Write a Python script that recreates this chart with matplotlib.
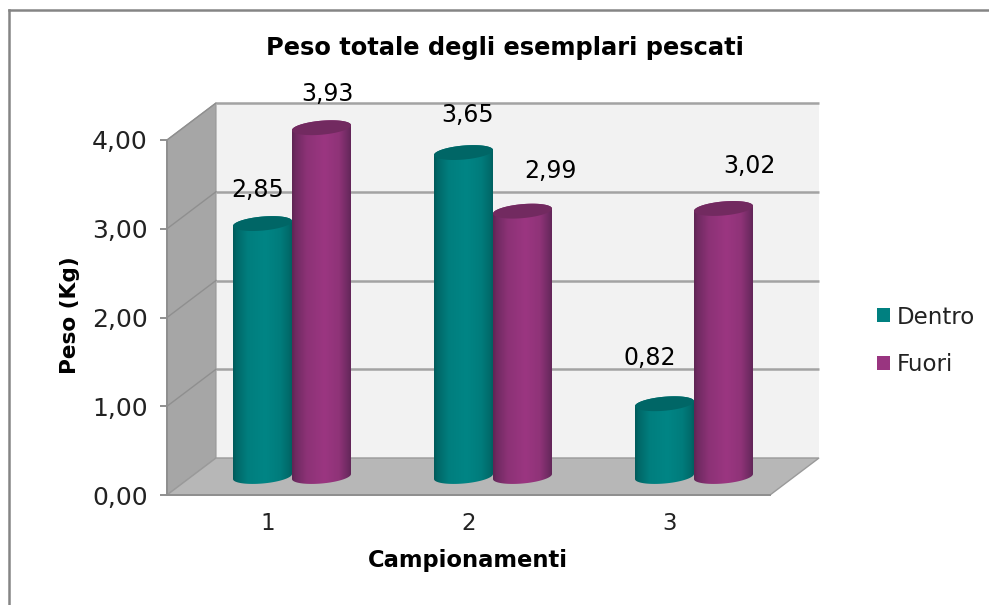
import numpy as np
import matplotlib
matplotlib.use("Agg")
import matplotlib.pyplot as plt
from matplotlib.colors import LinearSegmentedColormap
from matplotlib.patches import Patch, Polygon
from matplotlib.lines import Line2D

categories = ["1", "2", "3"]
dentro = [2.85, 3.65, 0.82]
fuori = [3.93, 2.99, 3.02]
yticks = [0, 1, 2, 3, 4]
title = "Peso totale degli esemplari pescati"
xlabel = "Campionamenti"
ylabel = "Peso (Kg)"

W, H = 989, 605
fig = plt.figure(figsize=(W / 100, H / 100), dpi=100, facecolor="white")
plt.rcParams["font.family"] = ["DejaVu Sans"]

# Front plane of the fake-3D box, in pixels
L, R, T, B = 167, 770, 140, 495
ax = fig.add_axes([L / W, 1 - B / H, (R - L) / W, (B - T) / H])
ax.set_xlim(0.5, 3.5)
ax.set_ylim(0, 4)
ax.patch.set_alpha(0)
px = (R - L) / 3.0   # px per category
py = (B - T) / 4.0   # px per unit
dx = 49 / px
dy = 37 / py
x0, x1 = 0.5, 3.5
ymax = 4

# Figure frame (open on the right and at the bottom)
for xs, ys in [((8.5, 8.5), (H, 10)), ((8.5, W), (10, 10))]:
    fig.add_artist(Line2D([x / W for x in xs], [1 - y / H for y in ys],
                          color="#858585", lw=1.8))

# Walls
ax.add_patch(Polygon([(x0 + dx, dy), (x1 + dx, dy), (x1 + dx, ymax + dy), (x0 + dx, ymax + dy)],
                     fc="#f2f2f2", ec="none", clip_on=False, zorder=1))
ax.add_patch(Polygon([(x0, 0), (x0 + dx, dy), (x0 + dx, ymax + dy), (x0, ymax)],
                     fc="#a6a6a6", ec="#989898", lw=0.8, clip_on=False, zorder=1.2))
ax.add_patch(Polygon([(x0, 0), (x1, 0), (x1 + dx, dy), (x0 + dx, dy)],
                     fc="#b7b7b7", ec="#9a9a9a", lw=1.0, clip_on=False, zorder=1.2))
for v in yticks[1:]:
    ax.plot([x0 + dx, x1 + dx], [v + dy, v + dy], color="#a3a3a3", lw=1.8,
            clip_on=False, zorder=1.5, solid_capstyle="butt")
    ax.plot([x0, x0 + dx], [v, v + dy], color="#8f8f8f", lw=1.0,
            clip_on=False, zorder=1.5)

# Cylinders
w = 59 / px
a, b, k = 29.5 / px, 7 / py, 2.5 / py
t = np.linspace(0, 2 * np.pi, 120)
cm_teal = LinearSegmentedColormap.from_list(
    "t", [(0, "#005a5a"), (0.06, "#006868"), (0.25, "#007e7e"), (0.55, "#008585"),
          (0.8, "#007c7c"), (0.94, "#006c6c"), (1, "#006060")])
cm_purp = LinearSegmentedColormap.from_list(
    "p", [(0, "#5e2553"), (0.06, "#6f2a61"), (0.25, "#8c3276"), (0.55, "#9b3681"),
          (0.8, "#8f3378"), (0.94, "#702b63"), (1, "#622658")])
grad = np.linspace(0, 1, 256)[None, :]


def cylinder(xc, top, cmap, topc, z):
    base = dy / 2
    ex = xc + a * np.cos(t)
    tu = np.linspace(0, np.pi, 60)
    tl = np.linspace(np.pi, 2 * np.pi, 60)
    xs = np.r_[xc + a * np.cos(tl), xc + a * np.cos(tu)]
    ys = np.r_[base + b * np.sin(tl) + k * np.cos(tl),
               base + top + b * np.sin(tu) + k * np.cos(tu)]
    body = Polygon(np.c_[xs, ys], fc="none", ec="none", transform=ax.transData, clip_on=False)
    ax.add_patch(body)
    im = ax.imshow(grad, cmap=cmap, extent=(xc - a, xc + a, 0, top + dy), aspect="auto",
                   zorder=z, interpolation="bilinear")
    im.set_clip_box(fig.bbox)
    im.set_clip_path(body)
    ax.add_patch(Polygon(np.c_[ex, base + top + b * np.sin(t) + k * np.cos(t)],
                         fc=topc, ec="none", zorder=z + 0.1, clip_on=False))


label_off = {0: [(-5, 34), (4, 38), (-15, 46)], 1: [(6, 34), (28, 40), (26, 42)]}
for i, c in enumerate([1, 2, 3]):
    xl = c + dx / 2 - w / 2
    xr = c + dx / 2 + w / 2
    cylinder(xl, dentro[i], cm_teal, "#006666", 3 + i * 0.5)
    cylinder(xr, fuori[i], cm_purp, "#722a60", 3.2 + i * 0.5)
    for s, xc, val in ((0, xl, dentro[i]), (1, xr, fuori[i])):
        ox, oy = label_off[s][i]
        ax.annotate(f"{val:.2f}".replace(".", ","), (xc, val + dy / 2), xytext=(ox * 0.72, oy * 0.72),
                    textcoords="offset points", ha="center", va="center", fontsize=17,
                    color="black", annotation_clip=False, zorder=10)
ax.set_xlim(0.5, 3.5)
ax.set_ylim(0, 4)

# Axes
for s in ("top", "right"):
    ax.spines[s].set_visible(False)
for s in ("left", "bottom"):
    ax.spines[s].set_color("#8f8f8f")
    ax.spines[s].set_linewidth(1.4)
    ax.spines[s].set_zorder(2)
ax.set_xticks([1, 2, 3], categories)
ax.set_yticks(yticks, [f"{v:.2f}".replace(".", ",") for v in yticks])
ax.tick_params(axis="x", length=0, pad=12, labelsize=16.5, labelcolor="#222222")
ax.tick_params(axis="y", length=5, width=1.4, color="#8f8f8f", pad=9, labelsize=18, labelcolor="#222222")

fig.text(505 / W, 1 - 48 / H, title, ha="center", va="center", fontsize=17.4, fontweight="bold")
fig.text(468 / W, 1 - 561 / H, xlabel, ha="center", va="center", fontsize=16.3, fontweight="bold")
fig.text(70 / W, 1 - 315 / H, ylabel, ha="center", va="center", rotation=90, fontsize=15.6, fontweight="bold")

handles = [Patch(fc="#008080", ec="none", label="Dentro"), Patch(fc="#993580", ec="none", label="Fuori")]
fig.legend(handles=handles, loc="center left", bbox_to_anchor=(877 / W, 1 - 341 / H), frameon=False,
           fontsize=16.5, handlelength=0.57, handleheight=0.57, handletextpad=0.3, labelspacing=1.09,
           labelcolor="#222222", borderpad=0, borderaxespad=0)

fig.savefig("out.png", dpi=100, facecolor="white")
